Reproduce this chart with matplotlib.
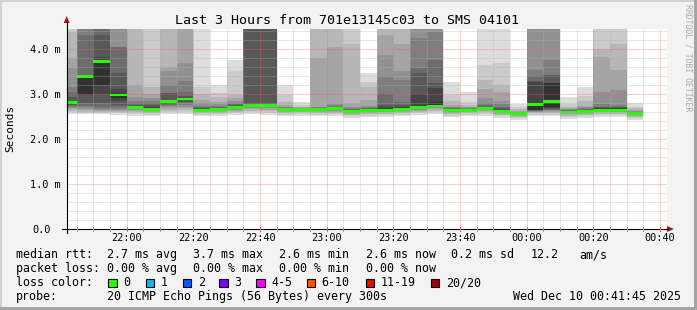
import matplotlib
matplotlib.use("Agg")
import matplotlib.pyplot as plt
from matplotlib.patches import Rectangle, Polygon
from matplotlib.lines import Line2D

# ---------------- data ----------------
bar_times = ["21:40", "21:45", "21:50", "21:55", "22:00", "22:05", "22:10", "22:15",
             "22:20", "22:25", "22:30", "22:35", "22:40", "22:45", "22:50", "22:55",
             "23:00", "23:05", "23:10", "23:15", "23:20", "23:25", "23:30", "23:35",
             "23:40", "23:45", "23:50", "23:55", "00:00", "00:05", "00:10", "00:15",
             "00:20", "00:25", "00:30"]

median_ms = [2.81, 3.39, 3.72, 2.98, 2.70, 2.66, 2.83, 2.89, 2.64, 2.66, 2.70, 2.75,
             2.74, 2.65, 2.65, 2.66, 2.67, 2.61, 2.63, 2.64, 2.65, 2.70, 2.73, 2.63,
             2.64, 2.67, 2.61, 2.56, 2.77, 2.84, 2.60, 2.61, 2.64, 2.64, 2.56]

# sorted ping times (ms): lower ten (p1..p10) and upper ten (p11..p20) per bar
pings_low = [
    [2.55, 2.59, 2.63, 2.66, 2.69, 2.72, 2.74, 2.76, 2.78, 2.80],
    [2.55, 2.58, 2.61, 2.64, 2.67, 2.70, 2.73, 2.80, 2.97, 3.00],
    [2.55, 2.58, 2.61, 2.63, 2.65, 2.67, 2.70, 2.79, 3.01, 3.21],
    [2.54, 2.57, 2.60, 2.63, 2.65, 2.67, 2.70, 2.75, 2.85, 2.90],
    [2.52, 2.56, 2.59, 2.62, 2.64, 2.66, 2.67, 2.68, 2.69, 2.70],
    [2.50, 2.54, 2.57, 2.60, 2.62, 2.63, 2.64, 2.65, 2.655, 2.66],
    [2.55, 2.59, 2.63, 2.67, 2.70, 2.73, 2.76, 2.78, 2.80, 2.82],
    [2.56, 2.60, 2.64, 2.68, 2.72, 2.76, 2.80, 2.83, 2.86, 2.88],
    [2.50, 2.54, 2.57, 2.59, 2.61, 2.62, 2.63, 2.635, 2.64, 2.64],
    [2.51, 2.55, 2.58, 2.60, 2.62, 2.63, 2.64, 2.65, 2.655, 2.66],
    [2.53, 2.57, 2.60, 2.63, 2.65, 2.67, 2.68, 2.69, 2.695, 2.70],
    [2.55, 2.59, 2.63, 2.66, 2.69, 2.71, 2.72, 2.73, 2.74, 2.75],
    [2.54, 2.58, 2.62, 2.65, 2.68, 2.70, 2.71, 2.72, 2.73, 2.74],
    [2.50, 2.54, 2.57, 2.60, 2.62, 2.63, 2.64, 2.645, 2.65, 2.65],
    [2.52, 2.56, 2.59, 2.61, 2.62, 2.63, 2.64, 2.645, 2.65, 2.65],
    [2.50, 2.54, 2.57, 2.60, 2.62, 2.63, 2.64, 2.65, 2.655, 2.66],
    [2.51, 2.55, 2.58, 2.61, 2.63, 2.64, 2.65, 2.66, 2.665, 2.67],
    [2.46, 2.50, 2.53, 2.55, 2.57, 2.58, 2.59, 2.60, 2.605, 2.61],
    [2.48, 2.52, 2.55, 2.58, 2.60, 2.61, 2.62, 2.625, 2.63, 2.63],
    [2.49, 2.53, 2.56, 2.59, 2.61, 2.62, 2.63, 2.635, 2.64, 2.64],
    [2.50, 2.54, 2.57, 2.60, 2.62, 2.63, 2.64, 2.645, 2.65, 2.65],
    [2.53, 2.57, 2.60, 2.63, 2.65, 2.67, 2.68, 2.69, 2.695, 2.70],
    [2.56, 2.60, 2.63, 2.66, 2.68, 2.70, 2.71, 2.72, 2.725, 2.73],
    [2.48, 2.52, 2.55, 2.58, 2.60, 2.61, 2.62, 2.625, 2.63, 2.63],
    [2.50, 2.54, 2.57, 2.59, 2.61, 2.62, 2.63, 2.635, 2.64, 2.64],
    [2.52, 2.56, 2.59, 2.62, 2.64, 2.65, 2.66, 2.665, 2.67, 2.67],
    [2.46, 2.50, 2.53, 2.56, 2.58, 2.59, 2.60, 2.605, 2.61, 2.61],
    [2.42, 2.46, 2.49, 2.51, 2.53, 2.54, 2.55, 2.555, 2.56, 2.56],
    [2.50, 2.54, 2.57, 2.59, 2.61, 2.62, 2.63, 2.64, 2.645, 2.65],
    [2.50, 2.54, 2.57, 2.60, 2.62, 2.64, 2.65, 2.66, 2.68, 2.70],
    [2.45, 2.49, 2.52, 2.55, 2.57, 2.58, 2.59, 2.595, 2.60, 2.60],
    [2.46, 2.50, 2.53, 2.56, 2.58, 2.59, 2.60, 2.605, 2.61, 2.61],
    [2.49, 2.53, 2.56, 2.59, 2.61, 2.62, 2.63, 2.635, 2.64, 2.64],
    [2.49, 2.53, 2.56, 2.59, 2.61, 2.62, 2.63, 2.635, 2.64, 2.64],
    [2.42, 2.46, 2.49, 2.51, 2.53, 2.54, 2.55, 2.555, 2.56, 2.56],
]
pings_high = [
    [2.82, 2.85, 2.94, 3.05, 3.16, 3.57, 3.79, 4.38, 4.6, 4.9],
    [3.39, 3.41, 3.42, 4.30, 4.6, 4.8, 5.0, 5.3, 5.6, 6.0],
    [3.73, 3.83, 4.30, 4.6, 4.8, 5.0, 5.2, 5.4, 5.7, 6.0],
    [3.00, 3.12, 3.46, 4.05, 4.05, 4.6, 4.8, 5.1, 5.4, 5.8],
    [2.72, 2.74, 2.76, 2.80, 2.85, 2.94, 3.20, 4.6, 4.9, 5.3],
    [2.69, 2.72, 2.76, 2.80, 2.85, 2.90, 3.00, 3.15, 4.7, 5.2],
    [2.85, 2.87, 3.02, 3.02, 3.20, 3.50, 3.61, 4.6, 4.9, 5.4],
    [2.90, 2.92, 2.95, 3.05, 3.28, 3.68, 4.6, 4.8, 5.1, 5.5],
    [2.66, 2.67, 2.68, 2.70, 2.74, 2.80, 2.87, 3.01, 3.16, 4.9],
    [2.67, 2.68, 2.69, 2.71, 2.74, 2.78, 2.83, 2.94, 3.02, 3.20],
    [2.71, 2.73, 2.75, 2.77, 2.80, 2.84, 2.90, 2.98, 3.50, 3.76],
    [2.77, 2.78, 4.6, 4.7, 4.8, 5.0, 5.2, 5.4, 5.7, 6.0],
    [2.76, 2.77, 4.6, 4.7, 4.9, 5.1, 5.3, 5.5, 5.8, 6.1],
    [2.665, 2.67, 2.68, 2.69, 2.70, 2.72, 2.76, 2.83, 2.98, 3.20],
    [2.66, 2.665, 2.67, 2.675, 2.68, 2.69, 2.70, 2.72, 2.76, 2.83],
    [2.67, 2.68, 2.685, 2.69, 2.70, 2.72, 3.79, 4.7, 5.0, 5.4],
    [2.68, 2.69, 2.70, 2.72, 2.75, 2.78, 4.05, 4.7, 5.0, 5.5],
    [2.63, 2.64, 2.65, 2.66, 2.68, 2.72, 2.80, 4.10, 4.7, 5.1],
    [2.64, 2.65, 2.66, 2.68, 2.70, 2.74, 2.87, 3.15, 3.27, 3.46],
    [2.66, 2.70, 2.76, 3.01, 3.38, 3.87, 4.30, 4.7, 5.0, 5.4],
    [2.67, 2.70, 2.75, 2.83, 3.30, 3.50, 4.12, 4.7, 5.0, 5.5],
    [2.74, 3.01, 3.46, 3.57, 4.24, 4.7, 4.9, 5.2, 5.6, 6.0],
    [2.83, 3.13, 3.24, 3.76, 4.38, 4.7, 5.0, 5.3, 5.6, 6.0],
    [2.65, 2.66, 2.67, 2.68, 2.70, 2.72, 2.76, 2.85, 2.98, 3.27],
    [2.655, 2.66, 2.665, 2.67, 2.68, 2.70, 2.72, 2.76, 2.83, 3.05],
    [2.68, 2.70, 2.72, 2.75, 2.80, 2.92, 3.10, 3.31, 3.64, 4.8],
    [2.63, 2.65, 2.68, 2.72, 2.78, 2.85, 3.05, 3.20, 3.68, 4.9],
    [2.57, 2.575, 2.58, 2.59, 2.60, 2.61, 2.63, 2.66, 2.70, 2.78],
    [2.80, 3.27, 3.28, 3.40, 3.53, 4.7, 4.9, 5.2, 5.5, 5.9],
    [3.24, 3.24, 3.42, 3.42, 3.76, 4.7, 5.0, 5.3, 5.6, 6.0],
    [2.61, 2.62, 2.63, 2.64, 2.65, 2.66, 2.68, 2.72, 2.78, 2.94],
    [2.63, 2.64, 2.65, 2.66, 2.68, 2.70, 2.74, 2.85, 2.95, 3.16],
    [2.66, 2.68, 2.70, 2.72, 2.78, 3.05, 3.83, 4.00, 4.7, 5.1],
    [2.66, 2.68, 2.70, 2.72, 2.75, 3.09, 3.53, 4.12, 4.7, 5.2],
    [2.57, 2.58, 2.585, 2.59, 2.60, 2.62, 2.64, 2.68, 2.72, 2.79],
]

x_tick_labels = ["22:00", "22:20", "22:40", "23:00", "23:20", "23:40", "00:00", "00:20", "00:40"]
y_tick_values = [0, 1, 2, 3, 4]
y_tick_labels = ["0.0", "1.0 m", "2.0 m", "3.0 m", "4.0 m"]

title = "Last 3 Hours from 701e13145c03 to SMS 04101"
rtt_items = ["2.7 ms avg", "3.7 ms max", "2.6 ms min", "2.6 ms now", "0.2 ms sd", "12.2", "am/s"]
loss_items = ["0.00 % avg", "0.00 % max", "0.00 % min", "0.00 % now"]
loss_color_labels = ["0", "1", "2", "3", "4-5", "6-10", "11-19", "20/20"]
loss_color_values = ["#26ff00", "#00b8ff", "#0059ff", "#7e00ff", "#ff00ff", "#ff5500", "#ff0000", "#a10000"]
probe_text = "20 ICMP Echo Pings (56 Bytes) every 300s"
stamp_text = "Wed Dec 10 00:41:45 2025"
step_min = 5

# ---------------- helpers ----------------
def to_min(s):
    h, m = map(int, s.split(":"))
    v = h * 60 + m - 22 * 60
    if v < -180:
        v += 24 * 60
    return v

W, H = 697, 310
MONO = "DejaVu Sans Mono"
fig = plt.figure(figsize=(W / 100, H / 100), dpi=100, facecolor="#f3f3f3")

def fx(px):
    return px / W

def fy(py):
    return 1 - py / H

AX_L, AX_R, AX_T, AX_B = 66.7, 666.7, 29.0, 229.0
ax = fig.add_axes([fx(AX_L), fy(AX_B), (AX_R - AX_L) / W, (AX_B - AX_T) / H])
ax.set_facecolor("white")
ax.set_xlim(-18, 162)
ax.set_ylim(0, 4.444)
for sp in ax.spines.values():
    sp.set_visible(False)

xs = [to_min(t) for t in bar_times]

# smoke bands (outer light -> inner dark)
half = 10
for k in range(1, half + 1):
    g = int(190 / half * (half - k)) + 50
    col = "#%02x%02x%02x" % (g, g, g)
    bottoms, heights = [], []
    for lo, hi in zip(pings_low, pings_high):
        p = lo + hi
        bottoms.append(p[k - 1])
        heights.append(p[20 - k] - p[k - 1])
    ax.bar(xs, heights, bottom=bottoms, width=step_min, align="edge",
           color=col, linewidth=0, zorder=1)

# median
mw = 0.03
ax.bar(xs, [2 * mw] * len(xs), bottom=[m - mw for m in median_ms], width=step_min,
       align="edge", color=loss_color_values[0], linewidth=0, zorder=3)

# grid
major_x = [to_min(t) for t in x_tick_labels]
minor_x = [v for v in range(-15, 165, 5) if v not in major_x]
ax.set_xticks(major_x)
ax.set_xticks(minor_x, minor=True)
ax.set_yticks(y_tick_values)
ax.set_yticks([i * 0.2 for i in range(1, 23) if i % 5 != 0], minor=True)
ax.set_axisbelow(False)
ax.grid(True, which="minor", color="#b0b0b0", alpha=0.6, linestyle=(0, (1, 1)), linewidth=0.72)
ax.grid(True, which="major", color="#f06060", alpha=0.6, linestyle=(0, (1, 1)), linewidth=0.72)
ax.tick_params(which="both", length=0, labelbottom=False, labelleft=False)

# axis lines and arrows
fig.add_artist(Line2D([fx(62), fx(668)], [fy(AX_B), fy(AX_B)], color="black", lw=0.8))
fig.add_artist(Line2D([fx(AX_L), fx(AX_L)], [fy(233), fy(22)], color="black", lw=0.8))
fig.add_artist(Polygon([[fx(AX_L), fy(16)], [fx(AX_L - 3), fy(23)], [fx(AX_L + 3), fy(23)]],
                       closed=True, color="#9b1b1b", lw=0))
fig.add_artist(Polygon([[fx(674), fy(AX_B)], [fx(667), fy(AX_B - 3)], [fx(667), fy(AX_B + 3)]],
                       closed=True, color="#9b1b1b", lw=0))
# small axis ticks
for v in range(-15, 165, 5):
    xp = AX_L + (v + 18) / 180 * (AX_R - AX_L)
    c = "#e06060" if v in major_x else "#a0a0a0"
    fig.add_artist(Line2D([fx(xp), fx(xp)], [fy(AX_B - 2), fy(AX_B + 2)], color=c, lw=0.7))

# x tick labels
for lab, v in zip(x_tick_labels, major_x):
    xp = AX_L + (v + 18) / 180 * (AX_R - AX_L)
    fig.text(fx(xp), fy(241), lab, ha="center", va="baseline", fontsize=7.4,
             family=MONO, color="black")

# y tick labels
for lab, v in zip(y_tick_labels, y_tick_values):
    yp = AX_B - v / 4.444 * (AX_B - AX_T)
    fig.text(fx(30 if lab != "0.0" else 32), fy(yp + 3.7), lab, ha="left", va="baseline",
             fontsize=7.4, family=MONO, color="black")

fig.text(fx(10), fy(128), "Seconds", rotation=90, ha="center", va="center",
         fontsize=8, family=MONO, color="black")

# title
fig.text(0.4985, fy(24), title, ha="center", va="baseline", fontsize=9.6,
         family=MONO, color="black")

# watermark
fig.text(fx(688), fy(4), "RRDTOOL / TOBI OETIKER", rotation=270, ha="center", va="top",
         fontsize=5.9, family=MONO, color="#a8a8a8")

# legend
LFS = 8.4
rows_y = [258.3, 272.0, 286.0, 299.7]
fig.text(fx(16), fy(rows_y[0]), "median rtt:", va="baseline", fontsize=LFS, family=MONO)
for s, xp in zip(rtt_items, [107, 193, 279, 366, 451, 530.5, 579]):
    fig.text(fx(xp), fy(rows_y[0]), s, va="baseline", fontsize=LFS, family=MONO)
fig.text(fx(16), fy(rows_y[1]), "packet loss:", va="baseline", fontsize=LFS, family=MONO)
for s, xp in zip(loss_items, [107, 193, 279, 366]):
    fig.text(fx(xp), fy(rows_y[1]), s, va="baseline", fontsize=LFS, family=MONO)
fig.text(fx(16), fy(rows_y[2]), "loss color:", va="baseline", fontsize=LFS, family=MONO)
box_x = [108, 145.7, 182.7, 219.3, 256, 306.7, 365.7, 430.7]
for lab, col, bx in zip(loss_color_labels, loss_color_values, box_x):
    fig.add_artist(Rectangle((fx(bx), fy(287)), 8.5 / W, 8.5 / H, facecolor=col,
                             edgecolor="black", lw=0.8, transform=fig.transFigure))
    fig.text(fx(bx + 15), fy(rows_y[2]), lab, va="baseline", fontsize=LFS, family=MONO)
fig.text(fx(16), fy(rows_y[3]), "probe:", va="baseline", fontsize=LFS, family=MONO)
fig.text(fx(107), fy(rows_y[3]), probe_text, va="baseline", fontsize=LFS, family=MONO)
fig.text(fx(513), fy(rows_y[3]), stamp_text, va="baseline", fontsize=LFS, family=MONO)

# frame
fig.add_artist(Rectangle((0, fy(2)), 1, 2 / H, facecolor="#d2d2d2", lw=0, transform=fig.transFigure))
fig.add_artist(Rectangle((0, 0), 2 / W, 1, facecolor="#d2d2d2", lw=0, transform=fig.transFigure))
fig.add_artist(Rectangle((0, 0), 1, 3 / H, facecolor="#a4a4a4", lw=0, transform=fig.transFigure))
fig.add_artist(Rectangle((fx(694), 0), 3 / W, 1, facecolor="#a4a4a4", lw=0, transform=fig.transFigure))

fig.savefig("out.png", dpi=100, facecolor=fig.get_facecolor())
